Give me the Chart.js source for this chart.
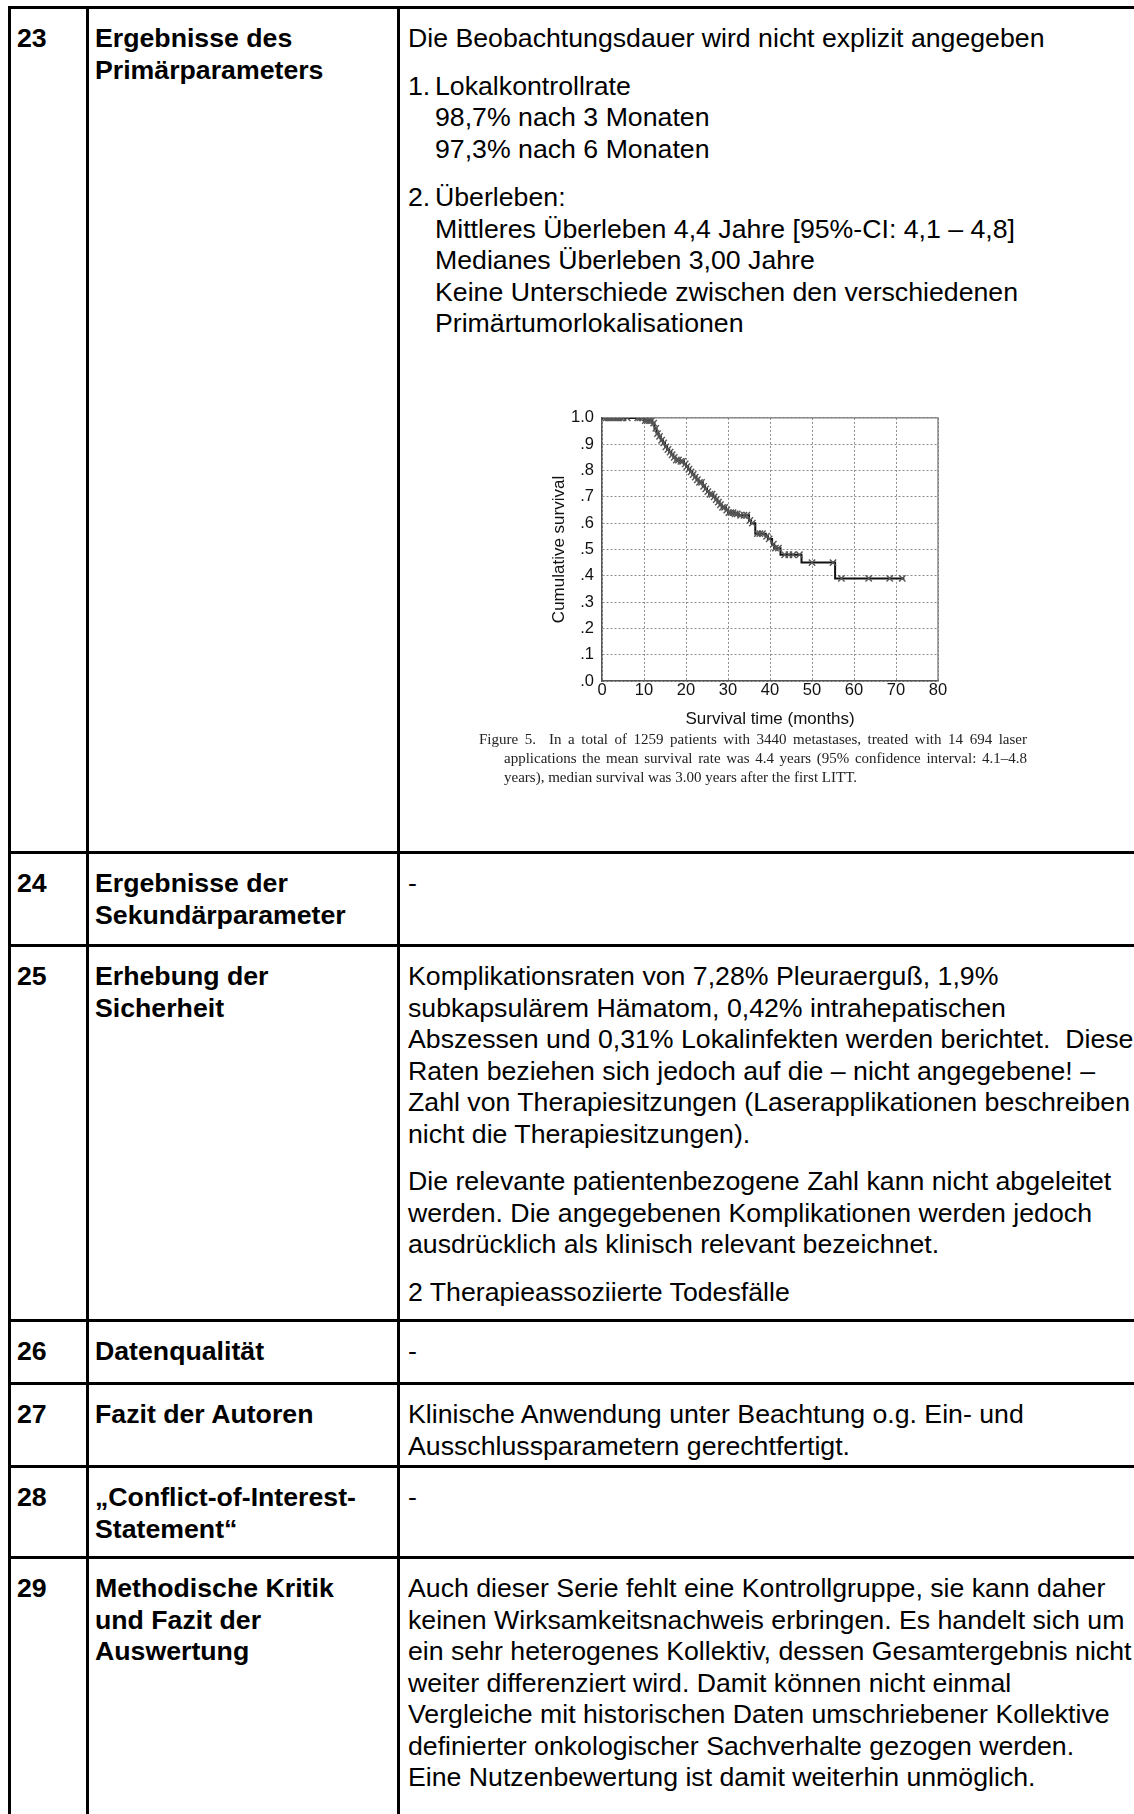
<!DOCTYPE html>
<html><head><meta charset="utf-8">
<script src="https://cdn.jsdelivr.net/npm/chart.js@4/dist/chart.umd.min.js"></script>
<style>
html,body{margin:0;padding:0;background:#fff;overflow:hidden;width:1134px;height:1814px;}
#page{position:relative;width:1134px;height:1814px;overflow:hidden;font-family:"Liberation Sans",Arial,sans-serif;font-size:26.7px;line-height:31.5px;color:#000;}
.tbl{position:absolute;left:8px;top:6px;width:1400px;}
.row{display:flex;box-sizing:border-box;border-top:3px solid #000;}
.cell{box-sizing:border-box;border-left:3px solid #000;padding:14px 6px 0 6px;white-space:nowrap;}
.c1{width:78px;font-weight:bold;}
.c2{width:311px;font-weight:bold;}
.c3{flex:1;padding-left:8px;}
.c3 p{margin:0 0 16px 0;}
.li{position:relative;padding-left:27px;margin-bottom:17px;}
.li .n{position:absolute;left:0;top:0;}
#chartBox{position:absolute;left:540px;top:400px;width:420px;height:335px;}
#caption{position:absolute;left:479px;top:730px;width:548px;font-family:"Liberation Serif","Times New Roman",serif;font-size:15px;line-height:19px;color:#222;}
#caption .j{text-align:justify;text-align-last:justify;}
#caption .ind{padding-left:25px;}
</style>
</head><body>
<div id="page">
<div class="tbl">
  <div class="row" style="height:845px">
    <div class="cell c1">23</div>
    <div class="cell c2">Ergebnisse des<br>Primärparameters</div>
    <div class="cell c3">
      <p>Die Beobachtungsdauer wird nicht explizit angegeben</p>
      <div class="li"><span class="n">1.</span>Lokalkontrollrate<br>98,7% nach 3 Monaten<br>97,3% nach 6 Monaten</div>
      <div class="li"><span class="n">2.</span>Überleben:<br>Mittleres Überleben 4,4 Jahre [95%-CI: 4,1 – 4,8]<br>Medianes Überleben 3,00 Jahre<br>Keine Unterschiede zwischen den verschiedenen<br>Primärtumorlokalisationen</div>
    </div>
  </div>
  <div class="row" style="height:93px">
    <div class="cell c1">24</div>
    <div class="cell c2">Ergebnisse der<br>Sekundärparameter</div>
    <div class="cell c3">-</div>
  </div>
  <div class="row" style="height:375px">
    <div class="cell c1">25</div>
    <div class="cell c2">Erhebung der<br>Sicherheit</div>
    <div class="cell c3">
      <p>Komplikationsraten von 7,28% Pleuraerguß, 1,9%<br>subkapsulärem Hämatom, 0,42% intrahepatischen<br>Abszessen und 0,31% Lokalinfekten werden berichtet.&nbsp; Diese<br>Raten beziehen sich jedoch auf die – nicht angegebene! –<br>Zahl von Therapiesitzungen (Laserapplikationen beschreiben<br>nicht die Therapiesitzungen).</p>
      <p>Die relevante patientenbezogene Zahl kann nicht abgeleitet<br>werden. Die angegebenen Komplikationen werden jedoch<br>ausdrücklich als klinisch relevant bezeichnet.</p>
      <p>2 Therapieassoziierte Todesfälle</p>
    </div>
  </div>
  <div class="row" style="height:63px">
    <div class="cell c1">26</div>
    <div class="cell c2">Datenqualität</div>
    <div class="cell c3">-</div>
  </div>
  <div class="row" style="height:83px">
    <div class="cell c1">27</div>
    <div class="cell c2">Fazit der Autoren</div>
    <div class="cell c3">Klinische Anwendung unter Beachtung o.g. Ein- und<br>Ausschlussparametern gerechtfertigt.</div>
  </div>
  <div class="row" style="height:91px">
    <div class="cell c1">28</div>
    <div class="cell c2">„Conflict-of-Interest-<br>Statement“</div>
    <div class="cell c3">-</div>
  </div>
  <div class="row" style="height:400px">
    <div class="cell c1">29</div>
    <div class="cell c2">Methodische Kritik<br>und Fazit der<br>Auswertung</div>
    <div class="cell c3">Auch dieser Serie fehlt eine Kontrollgruppe, sie kann daher<br>keinen Wirksamkeitsnachweis erbringen. Es handelt sich um<br>ein sehr heterogenes Kollektiv, dessen Gesamtergebnis nicht<br>weiter differenziert wird. Damit können nicht einmal<br>Vergleiche mit historischen Daten umschriebener Kollektive<br>definierter onkologischer Sachverhalte gezogen werden.<br>Eine Nutzenbewertung ist damit weiterhin unmöglich.</div>
  </div>
</div>
<div id="chartBox"><canvas id="km"></canvas></div>
<div id="caption">
  <div class="j">Figure 5.&nbsp; In a total of 1259 patients with 3440 metastases, treated with 14 694 laser</div>
  <div class="j ind">applications the mean survival rate was 4.4 years (95% confidence interval: 4.1–4.8</div>
  <div class="ind">years), median survival was 3.00 years after the first LITT.</div>
</div>
</div>
<script>
// Kaplan-Meier step curve (months, cumulative survival)
const kmTimes = [0, 10, 12, 12.5, 13, 13.5, 14, 14.5, 15, 15.5, 16, 16.5, 17, 17.5, 18.5, 19.5, 20, 20.5, 21, 21.5, 22, 22.5, 23, 24, 24.5, 25, 25.5, 26.5, 27, 27.5, 28, 28.5, 29.5, 30, 31.5, 32.5, 35, 35.5, 36.5, 39, 39.5, 40.5, 41, 42.5, 47.5, 55.5, 72];
const kmSurv  = [1.0, 0.99, 0.98, 0.96, 0.94, 0.93, 0.915, 0.905, 0.89, 0.88, 0.87, 0.86, 0.85, 0.84, 0.835, 0.825, 0.815, 0.805, 0.795, 0.785, 0.775, 0.765, 0.755, 0.74, 0.73, 0.72, 0.71, 0.70, 0.69, 0.68, 0.67, 0.66, 0.65, 0.64, 0.635, 0.63, 0.61, 0.60, 0.56, 0.55, 0.54, 0.52, 0.505, 0.48, 0.45, 0.39, 0.39];
// censored observations (x marks), dense along the early part of the curve
const censorTimes = [0.5, 1, 1.5, 2, 2.5, 3, 3.5, 4, 4.5, 5, 6, 8.5, 9, 9.5, 10.3, 10.8, 11.3, 11.8,
  12.3, 12.8, 13.2, 13.7, 14.2, 14.7, 15.2, 15.7, 16.2, 16.7, 17.2, 17.7, 18.2, 18.8, 19.2, 19.8, 20.2, 20.7, 21.2, 21.7, 22.2, 22.7, 23.2, 23.7, 24.2, 24.7, 25.2, 25.7, 26.2, 26.7, 27.2, 27.7, 28.2, 28.7, 29.2, 29.7, 30.2, 30.7, 31.2, 31.7, 32.2, 33, 33.8, 34.5, 35.2, 35.8, 37, 37.6, 38.2, 39.2, 39.8, 40.8, 41.3, 42,
  43.5, 44.5, 45.5, 47, 50, 55, 57, 63.5, 68.5, 71.5];
const censorSurv  = [1, 1, 1, 1, 1, 1, 1, 1, 1, 1, 1, 1, 1, 1, 0.99, 0.99, 0.99, 0.99,
  0.98, 0.96, 0.94, 0.93, 0.915, 0.905, 0.89, 0.88, 0.87, 0.86, 0.85, 0.84, 0.84, 0.835, 0.835, 0.825, 0.815, 0.805, 0.795, 0.785, 0.775, 0.765, 0.755, 0.755, 0.74, 0.73, 0.72, 0.71, 0.71, 0.70, 0.69, 0.68, 0.67, 0.66, 0.66, 0.65, 0.64, 0.64, 0.64, 0.635, 0.635, 0.63, 0.63, 0.63, 0.61, 0.60, 0.56, 0.56, 0.56, 0.55, 0.54, 0.52, 0.505, 0.505,
  0.48, 0.48, 0.48, 0.48, 0.45, 0.45, 0.39, 0.39, 0.39, 0.39];
// axis tick labels
const xTickValues = [0, 10, 20, 30, 40, 50, 60, 70, 80];
const yTickLabels = ['.0', '.1', '.2', '.3', '.4', '.5', '.6', '.7', '.8', '.9', '1.0'];
const xTitle = 'Survival time (months)';
const yTitle = 'Cumulative survival';

const kmData = kmTimes.map((t, i) => ({x: t, y: kmSurv[i]}));
const censorData = censorTimes.map((t, i) => ({x: t, y: censorSurv[i]}));

const framePlugin = {
  id: 'frame',
  beforeDatasetsDraw(chart) {
    const {ctx, chartArea: a} = chart;
    ctx.save();
    ctx.strokeStyle = '#7a7a7a';
    ctx.lineWidth = 1.3;
    ctx.beginPath();
    ctx.moveTo(a.left, a.top);
    ctx.lineTo(a.right, a.top);
    ctx.lineTo(a.right, a.bottom);
    ctx.stroke();
    ctx.restore();
  }
};

const font = {family: '"Liberation Sans", Arial, sans-serif'};
new Chart(document.getElementById('km'), {
  type: 'line',
  data: {
    datasets: [
      {data: censorData, showLine: false, pointStyle: 'crossRot', pointRadius: 4.5, borderColor: '#555', pointBorderWidth: 1.4, backgroundColor: '#555'},
      {data: kmData, stepped: true, borderColor: '#111', borderWidth: 2, pointRadius: 0, fill: false}
    ]
  },
  options: {
    responsive: true,
    maintainAspectRatio: false,
    animation: false,
    events: [],
    layout: {padding: {left: 0, top: 15, right: 22, bottom: 0}},
    plugins: {legend: {display: false}, tooltip: {enabled: false}},
    scales: {
      x: {
        type: 'linear', min: 0, max: 80,
        afterBuildTicks(scale) { scale.ticks = xTickValues.map(v => ({value: v})); },
        afterFit(scale) { scale.height = 54; },
        grid: {color: '#8c8c8c', lineWidth: 1, drawTicks: false},
        border: {display: true, color: '#555', width: 1.5, dash: [2, 2]},
        ticks: {padding: 0, color: '#111', font: {...font, size: 16.5}},
        title: {display: true, text: xTitle, color: '#111', font: {...font, size: 17}, padding: {top: 0, bottom: 5}}
      },
      y: {
        type: 'linear', min: 0, max: 1,
        ticks: {stepSize: 0.1, padding: 8, color: '#111', font: {...font, size: 16.5},
                callback: v => yTickLabels[Math.round(v * 10)]},
        afterFit(scale) { scale.width = 62; },
        grid: {color: '#8c8c8c', lineWidth: 1, drawTicks: false},
        border: {display: true, color: '#555', width: 1.5, dash: [2, 2]},
        title: {display: true, text: yTitle, color: '#111', font: {...font, size: 17}, padding: {top: 9, bottom: 0}}
      }
    }
  },
  plugins: [framePlugin]
});
</script>
</body></html>
